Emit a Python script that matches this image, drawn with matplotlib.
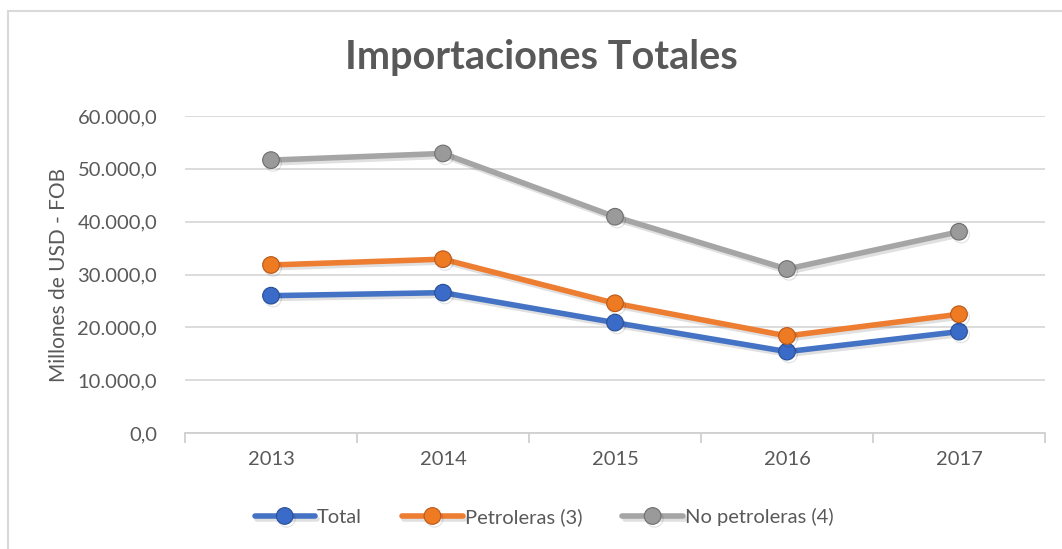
import matplotlib
matplotlib.use('Agg')
from matplotlib import pyplot as plt
from matplotlib import patheffects as pe
from matplotlib.ticker import FuncFormatter
from matplotlib.patches import Rectangle

# Data (millones de USD - FOB)
years = ['2013', '2014', '2015', '2016', '2017']
total = [25990, 26560, 20890, 15400, 19190]
petroleras = [31800, 32900, 24550, 18370, 22480]
no_petroleras = [51650, 52910, 40930, 31040, 38090]

series_names = ['Total', 'Petroleras (3)', 'No petroleras (4)']
series_colours = ['#4472C4', '#ED7D31', '#A5A5A5']
marker_faces = ['#3A6BC9', '#EE7A22', '#9A9A9A']
marker_edges = ['#2A4F94', '#B8581A', '#6E6E6E']

plt.rcParams['font.family'] = ['Lato', 'DejaVu Sans']
textColour = '#595959'

figure = plt.figure(figsize=(10.62, 5.49), dpi=100)
ax = figure.add_axes([185/1062, 1 - 433/549, 860/1062, 317/549])

x = list(range(len(years)))
shadow = [pe.SimpleLineShadow(offset=(1.5, -2), shadow_color='#000000', alpha=0.12), pe.Normal()]
for values, name, colour, face, edge in zip([total, petroleras, no_petroleras],
                                            series_names, series_colours, marker_faces, marker_edges):
    ax.plot(x, values, color=colour, linewidth=4, marker='o', markersize=12,
            markerfacecolor=face, markeredgecolor=edge, markeredgewidth=0.8, label=name,
            solid_capstyle='round', path_effects=shadow, zorder=3)

ax.set_xlim(-0.5, len(years) - 0.5)
ax.set_ylim(0, 60000)
ax.set_yticks(range(0, 60001, 10000))
ax.yaxis.set_major_formatter(FuncFormatter(
    lambda v, p: '{:,.1f}'.format(v).replace(',', 'X').replace('.', ',').replace('X', '.')))
ax.set_xticks(x)
ax.set_xticklabels(years)
ax.set_xticks([i + 0.5 for i in range(-1, len(years))], minor=True)

ax.grid(axis='y', color='#D9D9D9', linewidth=1.3)
ax.set_axisbelow(True)
for side in ['top', 'right', 'left']:
    ax.spines[side].set_visible(False)
ax.spines['bottom'].set_color('#D0D0D0')
ax.spines['bottom'].set_linewidth(1.3)

ax.tick_params(axis='y', length=0, labelsize=14.5, labelcolor=textColour, pad=20)
ax.tick_params(axis='x', which='major', length=0, labelsize=14.5, labelcolor=textColour, pad=13)
ax.tick_params(axis='x', which='minor', length=7, width=1.3, color='#D0D0D0')

ax.set_ylabel('Millones de USD - FOB', fontsize=15, color=textColour, labelpad=6)

figure.text(541/1062, 1 - 58/549, 'Importaciones Totales', fontsize=28.5, fontweight='bold',
            color=textColour, ha='center', va='center')

legend = figure.legend(loc='center', bbox_to_anchor=(544/1062, 1 - 517/549), ncol=3,
                       frameon=False, fontsize=14.5, handlelength=3.0, handletextpad=0.1,
                       columnspacing=2.0, labelcolor=textColour)

# Chart border
figure.patches.append(Rectangle((8/1062, -0.1), 1.2, 1 - 11/549 + 0.1, transform=figure.transFigure,
                                fill=False, edgecolor='#D9D9D9', linewidth=1.5))

plt.savefig('out.png', dpi=100)
plt.close()
